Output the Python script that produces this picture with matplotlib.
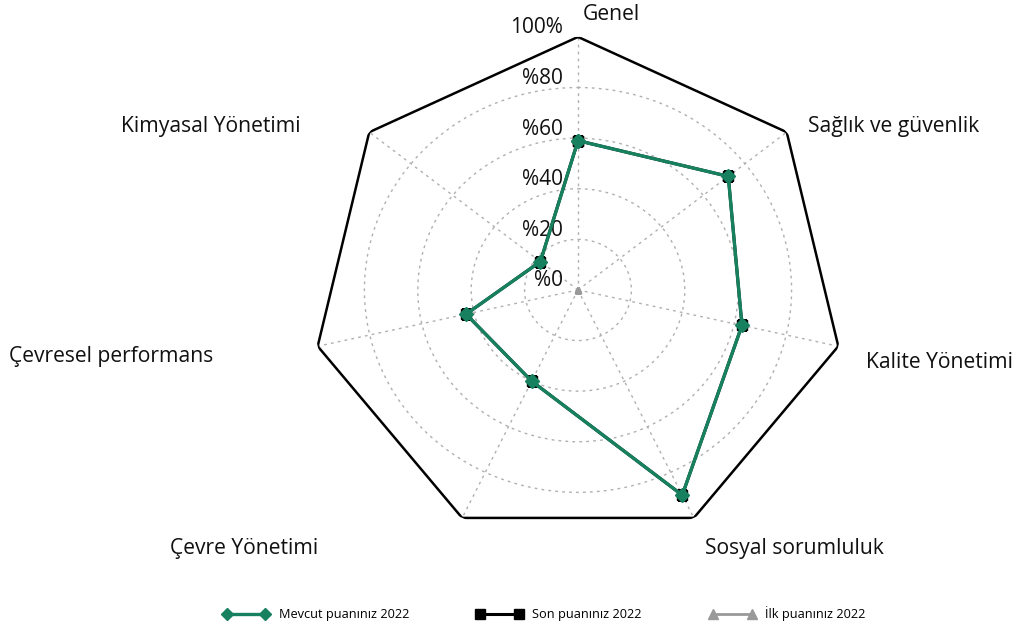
import numpy as np
import matplotlib
matplotlib.use('Agg')
import matplotlib.pyplot as plt
from matplotlib.lines import Line2D

plt.rcParams['font.family'] = ['Open Sans', 'DejaVu Sans']

categories = ['Genel', 'Sağlık ve güvenlik', 'Kalite Yönetimi', 'Sosyal sorumluluk',
              'Çevre Yönetimi', 'Çevresel performans', 'Kimyasal Yönetimi']
mevcut = [59, 72, 63, 90, 40, 43, 18]
son = [59, 72, 63, 90, 40, 43, 18]
ilk = [0, 0, 0, 0, 0, 0, 0]
rticks = [0, 20, 40, 60, 80, 100]
rtick_labels = ['%0', '%20', '%40', '%60', '%80', '100%']
series_names = ['Mevcut puanınız 2022', 'Son puanınız 2022', 'İlk puanınız 2022']

green = '#17805e'
grid_col = '#b0b0b0'

n = len(categories)
angles = np.linspace(0, 2 * np.pi, n, endpoint=False)
ang_c = np.append(angles, angles[0])


def closed(vals):
    return np.append(vals, vals[0])


fig = plt.figure(figsize=(10.21, 6.31), dpi=100)
ax = fig.add_axes([0.3046, 0.1395, 0.523, 0.802], projection='polar')
ax.set_aspect('auto')
ax.set_theta_zero_location('N')
ax.set_theta_direction(-1)
ax.set_ylim(0, 100)
ax.spines['polar'].set_visible(False)

ax.set_xticks(angles)
ax.set_xticklabels([])
ax.set_yticks(rticks)
ax.set_yticklabels([])
ax.grid(True, color=grid_col, linestyle=(0, (2, 3)), linewidth=1)
ax.yaxis.get_gridlines()[-1].set_visible(False)

# outer heptagon frame
ax.plot(ang_c, closed([100] * n), color='black', lw=1.8, zorder=2)

# series
ax.plot(ang_c, closed(ilk), color='#999999', lw=2, marker='^', ms=4, zorder=3)
ax.plot(ang_c, closed(son), color='black', lw=2.2, marker='s', ms=7.5, zorder=4)
ax.plot(ang_c, closed(mevcut), color=green, lw=2.4, marker='D', ms=7, zorder=5)

# radial labels
for v, lbl in zip(rticks, rtick_labels):
    ax.annotate(lbl, xy=(0, v), xytext=(-15, 9), textcoords='offset pixels',
                ha='right', va='center', fontsize=15, color='#111111')

# category labels
offsets = [(5, 22, 'left'), (21, 6, 'left'), (28, -16, 'left'), (11, -31, 'left'),
           (-144, -31, 'right'), (-104, -10, 'right'), (-69, 6, 'right')]
for a, name, (dx, dy, ha) in zip(angles, categories, offsets):
    ax.annotate(name, xy=(a, 100), xytext=(dx, dy), textcoords='offset pixels',
                ha=ha, va='center', fontsize=15.2, color='#111111',
                annotation_clip=False)

handles = [
    Line2D([], [], color=green, lw=2.4, marker='D', ms=6.5),
    Line2D([], [], color='black', lw=2.2, marker='s', ms=6.5),
    Line2D([], [], color='#999999', lw=2, marker='^', ms=6.5),
]
fig.legend(handles, series_names, loc='center', bbox_to_anchor=(0.533, 0.027),
           ncol=3, frameon=False, fontsize=9.2, numpoints=2, handlelength=3.6,
           columnspacing=5.3, handletextpad=0.75)

fig.savefig('out.png', dpi=100)
